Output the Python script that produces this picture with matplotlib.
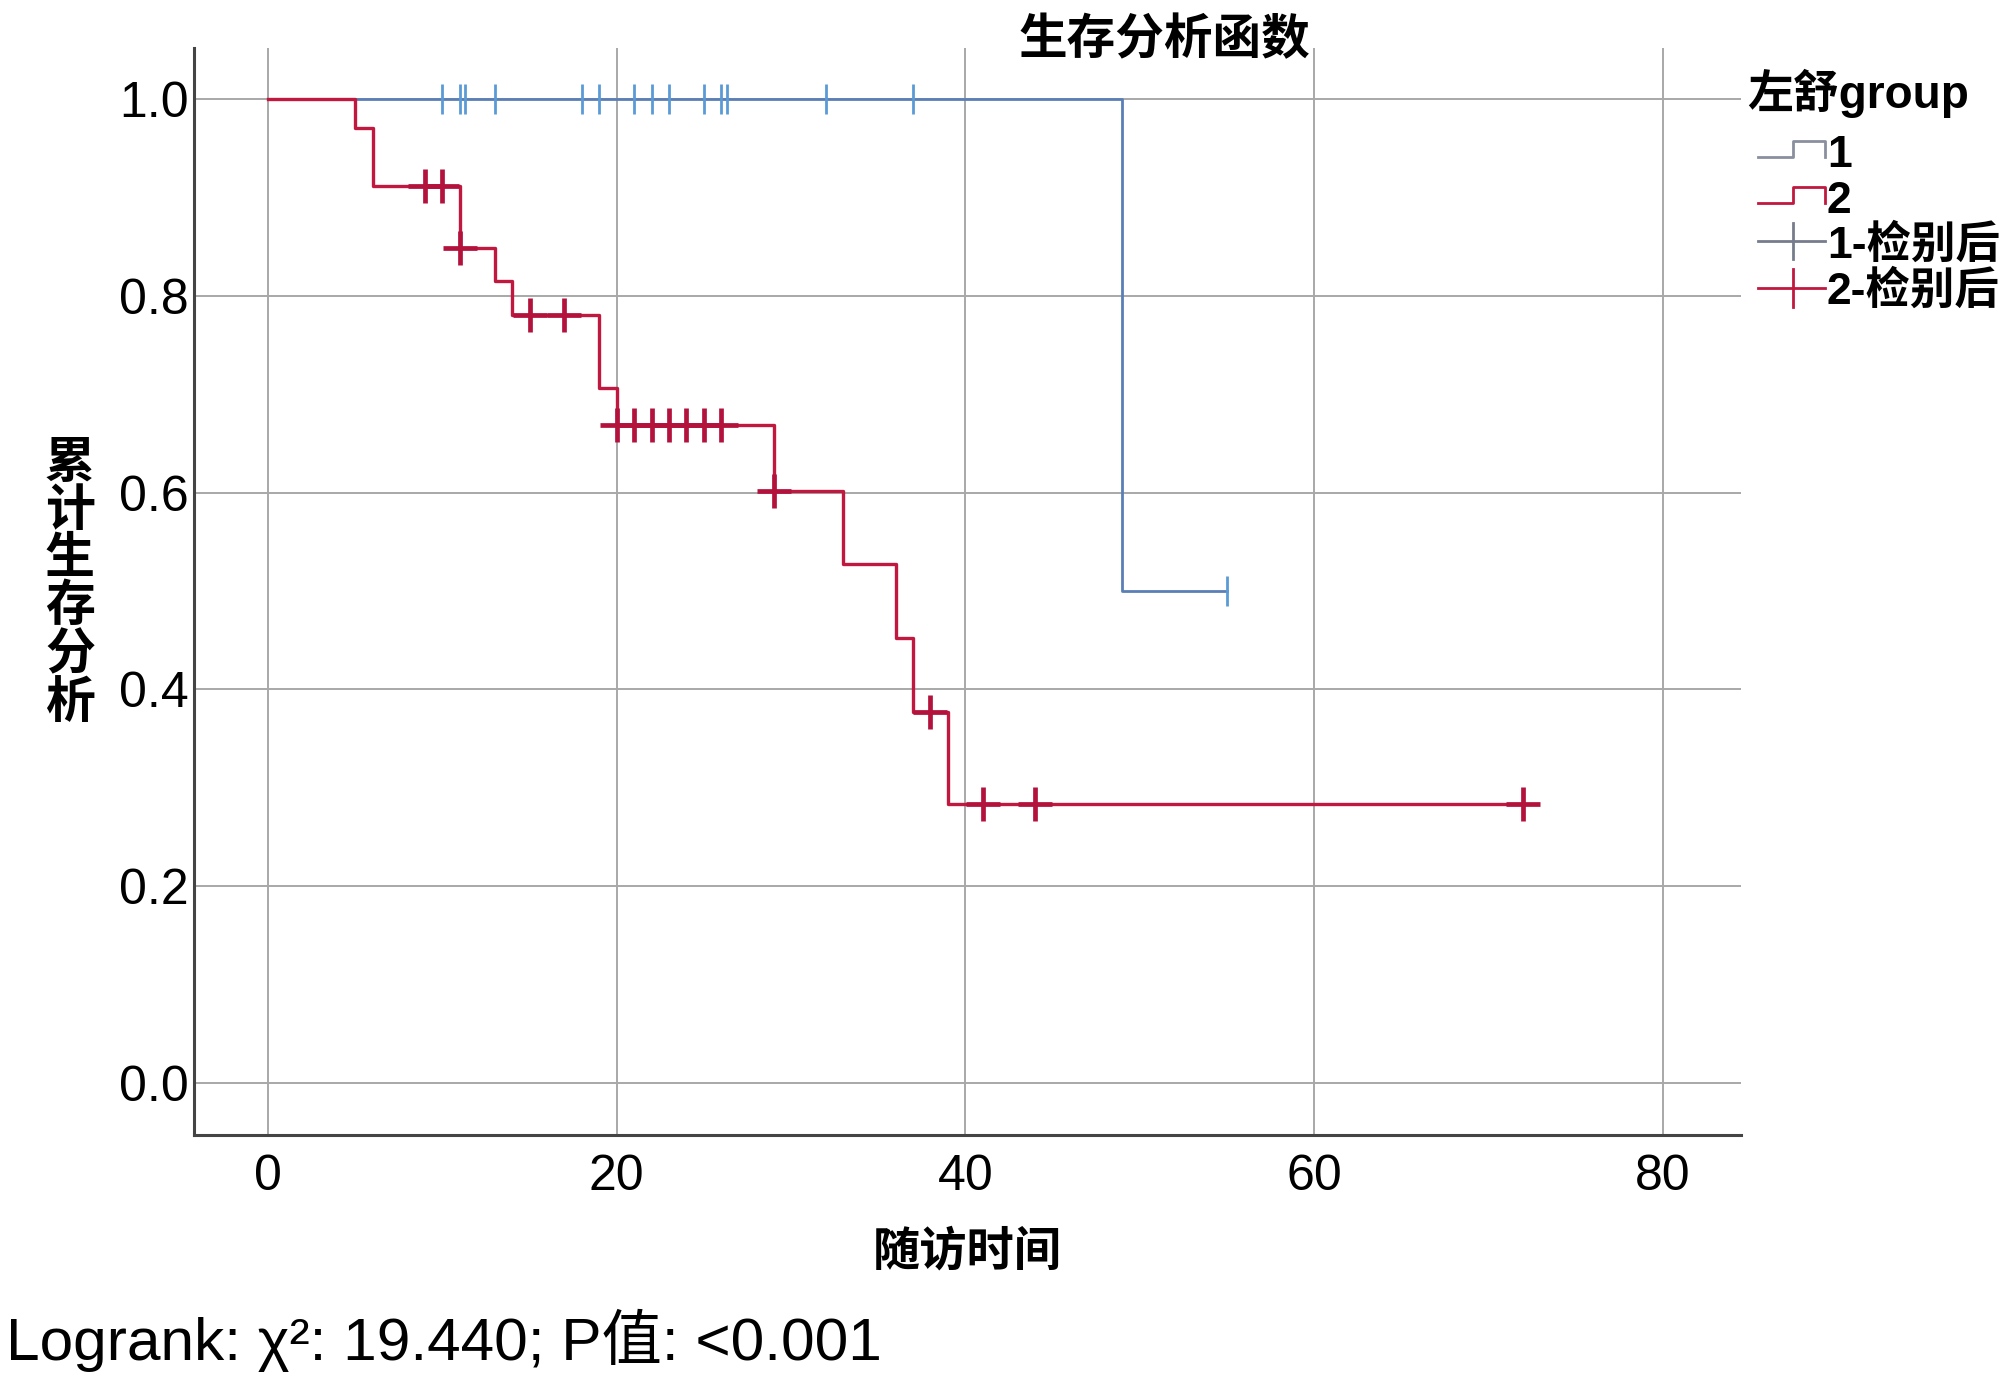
import numpy as np
import matplotlib
matplotlib.use("Agg")
import matplotlib.pyplot as plt
from matplotlib.lines import Line2D

plt.rcParams['font.family'] = ['Liberation Sans', 'Noto Sans CJK SC', 'DejaVu Sans']

# Kaplan-Meier step data
g1_times = [0, 49, 55]
g1_surv = [1.0, 0.5, 0.5]
g1_censor = [10, 11, 11.3, 13, 18, 19, 21, 22, 23, 25, 26, 26.3, 32, 37, 55]

g2_times = [0, 5, 6, 11, 13, 14, 19, 20, 29, 33, 36, 37, 39, 72]
g2_surv = [1.0, 0.971, 0.912, 0.849, 0.815, 0.781, 0.706, 0.669, 0.602, 0.527, 0.452, 0.377, 0.283, 0.283]
g2_censor = [9, 10, 11, 15, 17, 20, 21, 22, 23, 24, 25, 26, 29, 38, 41, 44, 72]

x_ticks = [0, 20, 40, 60, 80]
y_ticks = [0.0, 0.2, 0.4, 0.6, 0.8, 1.0]

legend_labels = ['1', '2', '1-检别后', '2-检别后']

c1_line = '#5a7fb6'
c1_mark = '#5b9bd5'
c2_line = '#c0183f'
grid_c = '#a8a8a8'


def surv_at(times, surv, t):
    idx = np.searchsorted(times, t, side='right') - 1
    return np.asarray(surv)[idx]


fig = plt.figure(figsize=(20, 13.92), dpi=100)
ax = fig.add_axes([0.097, 0.1846, 0.7735, 0.781])

ax.step(g1_times, g1_surv, where='post', color=c1_line, lw=2.0, zorder=3)
ax.plot(g1_censor, surv_at(g1_times, g1_surv, g1_censor), ls='none', marker='|',
        ms=22, mew=2.0, color=c1_mark, zorder=4)

ax.step(g2_times, g2_surv, where='post', color=c2_line, lw=2.4, zorder=5)
ax.plot(g2_censor, surv_at(g2_times, g2_surv, g2_censor), ls='none', marker='+',
        ms=24, mew=3.4, color='#b3123d', zorder=6)

ax.set_xlim(-4.25, 84.5)
ax.set_ylim(-0.053, 1.052)
ax.set_xticks(x_ticks)
ax.set_yticks(y_ticks)
ax.set_yticklabels([f'{v:.1f}' for v in y_ticks])
ax.grid(True, color=grid_c, lw=1.4)
ax.set_axisbelow(True)
ax.tick_params(length=0, labelsize=36, pad=4)
ax.tick_params(axis='x', pad=14)
for s in ['top', 'right']:
    ax.spines[s].set_visible(False)
for s in ['left', 'bottom']:
    ax.spines[s].set_color('#444444')
    ax.spines[s].set_linewidth(2.2)

ax.set_xlabel('随访时间', fontsize=34, fontweight='bold', labelpad=22)
fig.text(0.035, 0.580, '\n'.join('累计生存分析'), fontsize=36, fontweight='bold',
         ha='center', va='center', linespacing=1.04)
fig.text(0.582, 0.9705, '生存分析函数', fontsize=35, fontweight='bold',
         ha='center', va='center')

# legend drawn by hand to match the SPSS style
fig.text(0.8735, 0.9332, '左舒group', fontsize=33, fontweight='bold', ha='left', va='center')
x0, xm, x1 = 0.879, 0.8965, 0.9125
step_icons = [(0.8872, 0.8987, '#8a8fa0'), (0.8542, 0.8657, c2_line)]
for lo, hi, cc in step_icons:
    fig.add_artist(Line2D([x0, xm, xm, x1, x1], [lo, lo, hi, hi, lo], color=cc, lw=2.0))
cross_icons = [(0.8269, 0.013, '#777c8c'), (0.7931, 0.0135, c2_line)]
for yy, h, cc in cross_icons:
    fig.add_artist(Line2D([x0, x1], [yy, yy], color=cc, lw=2.0))
    fig.add_artist(Line2D([xm, xm], [yy - h, yy + h], color=cc, lw=2.0))
for lab, yy in zip(legend_labels, [0.8885, 0.8550, 0.8235, 0.7905]):
    fig.text(0.9135, yy, lab, fontsize=32, fontweight='bold', ha='left', va='center')

fig.text(0.003, 0.037, 'Logrank: χ²: 19.440; P值: <0.001', fontsize=43.5, ha='left', va='center')

fig.savefig('out.png', dpi=100, facecolor='white')
